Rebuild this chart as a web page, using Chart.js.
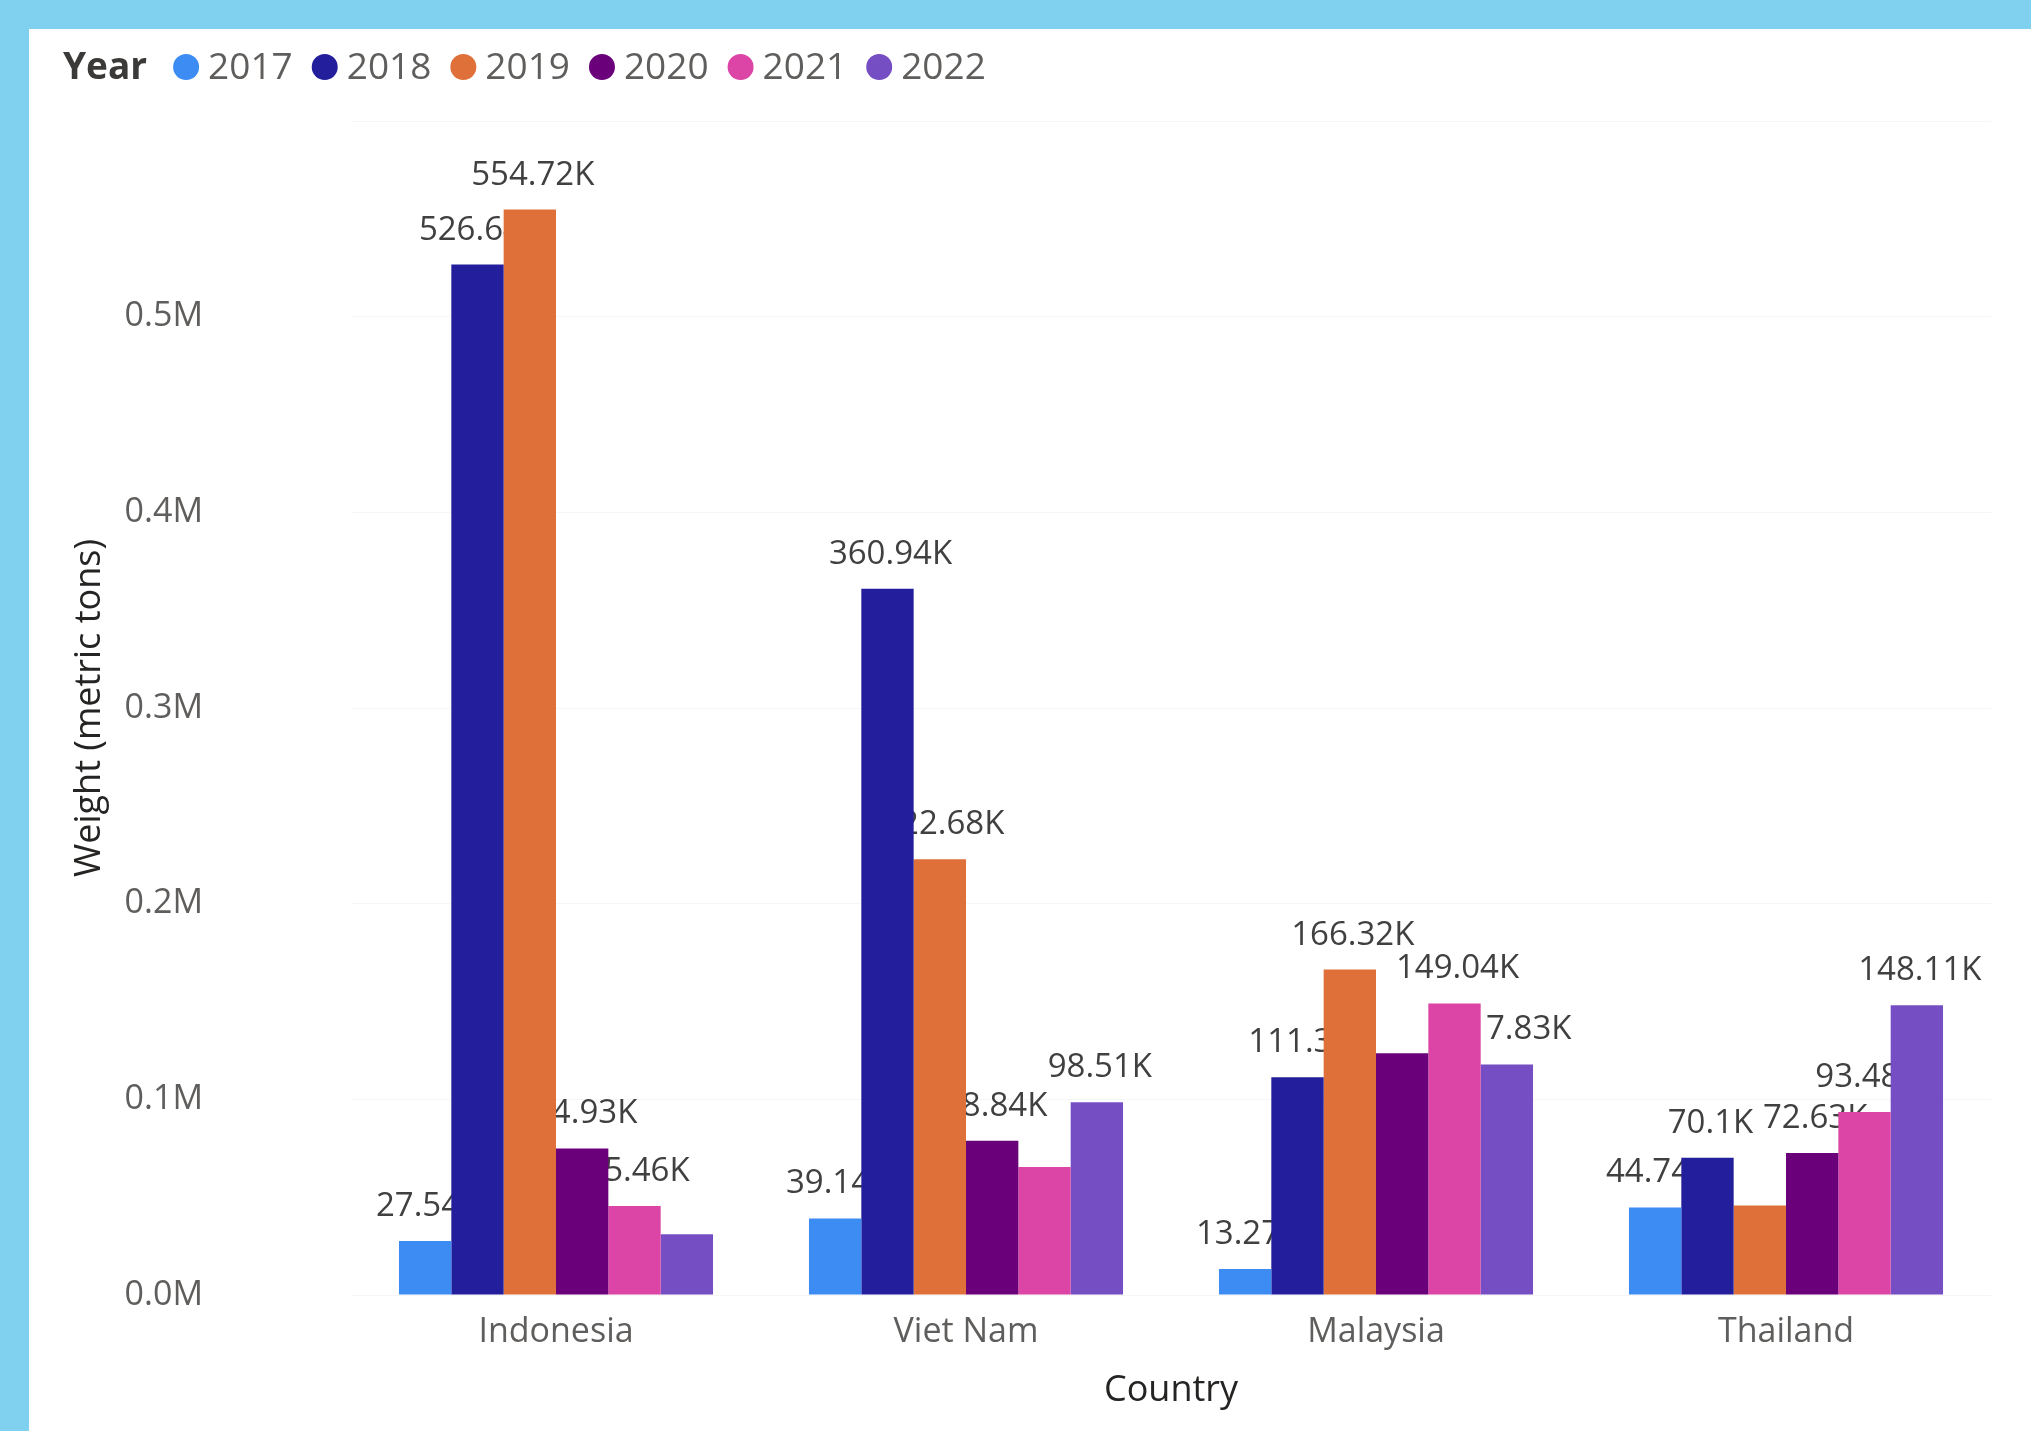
<!DOCTYPE html>
<html>
<head>
<meta charset="utf-8">
<script src="https://cdn.jsdelivr.net/npm/chart.js@4.4.1/dist/chart.umd.min.js"></script>
<style>
  html, body { margin: 0; padding: 0; }
  body { width: 2031px; height: 1431px; background: #7FD1EF; position: relative; overflow: hidden; }
  #panel { position: absolute; left: 29px; top: 29px; width: 2002px; height: 1402px; background: #ffffff; }
  canvas { display: block; }
</style>
</head>
<body>
<div id="panel"><canvas id="chart" width="2002" height="1402"></canvas></div>
<script>
// Imported weight per country and year, metric tons
const countries = ['Indonesia', 'Viet Nam', 'Malaysia', 'Thailand'];
const years = ['2017', '2018', '2019', '2020', '2021', '2022'];

const w2017 = [27540, 39140, 13270, 44740];
const w2018 = [526640, 360940, 111300, 70100];
const w2019 = [554720, 222680, 166320, 45800];
const w2020 = [74930, 78840, 123500, 72630];
const w2021 = [45460, 65400, 149040, 93480];
const w2022 = [31000, 98510, 117830, 148110];

// which value labels are printed above the bars
const shown2017 = [true, true, true, true];
const shown2018 = [true, true, true, true];
const shown2019 = [true, true, true, false];
const shown2020 = [true, true, false, true];
const shown2021 = [true, false, true, true];
const shown2022 = [false, true, true, true];

const yTicks = [0, 100000, 200000, 300000, 400000, 500000];

const seriesValues = [w2017, w2018, w2019, w2020, w2021, w2022];
const seriesShown = [shown2017, shown2018, shown2019, shown2020, shown2021, shown2022];
const yearColors = ['#3C8CF4', '#231F9C', '#E0703A', '#6B007B', '#DC45A5', '#744EC2'];

const FONT = '"Open Sans", "Segoe UI", sans-serif';

function fmtK(v) {
  let s = (v / 1000).toFixed(2);
  s = s.replace(/0+$/, '').replace(/\.$/, '');
  return s + 'K';
}

// Value labels sit underneath the bars, so neighbouring bars may cover them
const valueLabels = {
  id: 'valueLabels',
  beforeDatasetsDraw(chart) {
    const ctx = chart.ctx;
    ctx.save();
    ctx.font = '33px ' + FONT;
    ctx.fillStyle = '#404040';
    ctx.textAlign = 'center';
    ctx.textBaseline = 'alphabetic';
    chart.data.datasets.forEach((ds, i) => {
      const meta = chart.getDatasetMeta(i);
      meta.data.forEach((bar, j) => {
        if (!ds.showLabel[j]) return;
        ctx.fillText(fmtK(ds.data[j]), bar.x + 3, bar.y - 25);
      });
    });
    ctx.restore();
  }
};

// Inline legend: bold field name followed by colored dots
const yearLegend = {
  id: 'yearLegend',
  afterDraw(chart) {
    const ctx = chart.ctx;
    ctx.save();
    const cy = 38;
    ctx.textBaseline = 'middle';
    ctx.textAlign = 'left';
    ctx.font = 'bold 37px ' + FONT;
    ctx.fillStyle = '#3b3a39';
    let x = 34;
    ctx.fillText('Year', x, cy + 1);
    x += ctx.measureText('Year').width + 26;
    ctx.font = '37px ' + FONT;
    chart.data.datasets.forEach((ds) => {
      const r = 13;
      ctx.beginPath();
      ctx.arc(x + r, cy, r, 0, Math.PI * 2);
      ctx.fillStyle = ds.backgroundColor;
      ctx.fill();
      x += 2 * r + 9;
      ctx.fillStyle = '#605E5C';
      ctx.fillText(ds.label, x, cy + 1);
      x += ctx.measureText(ds.label).width + 19;
    });
    ctx.restore();
  }
};

const datasets = years.map((y, i) => ({
  label: y,
  data: seriesValues[i],
  showLabel: seriesShown[i],
  backgroundColor: yearColors[i],
  borderWidth: 0,
  categoryPercentage: 0.766,
  barPercentage: 1.0
}));

new Chart(document.getElementById('chart'), {
  type: 'bar',
  data: { labels: countries, datasets },
  options: {
    responsive: false,
    animation: false,
    layout: { padding: { left: 0, right: 40, top: 92, bottom: 0 } },
    plugins: {
      legend: { display: false },
      tooltip: { enabled: false }
    },
    scales: {
      x: {
        grid: { display: false, drawTicks: false },
        border: { display: false },
        ticks: { color: '#605E5C', font: { family: FONT, size: 34 }, padding: 17 },
        title: {
          display: true, text: 'Country', color: '#252423',
          font: { family: FONT, size: 36 }, padding: { top: 0, bottom: 19 }
        },
        afterFit(scale) { scale.height = 136; }
      },
      y: {
        min: 0, max: 600000,
        afterBuildTicks(scale) { scale.ticks = yTicks.concat([600000]).map(v => ({ value: v })); },
        grid: { color: 'rgba(0,0,0,0.035)', drawTicks: false },
        border: { display: false },
        ticks: {
          color: '#605E5C', font: { family: FONT, size: 34 }, padding: 148,
          callback: (v) => yTicks.includes(v) ? (v / 1e6).toFixed(1) + 'M' : ''
        },
        title: {
          display: true, text: 'Weight (metric tons)', color: '#252423',
          font: { family: FONT, size: 36 }, padding: { top: 39, bottom: 0 }
        },
        afterFit(scale) {
          scale.width = 322;
          scale.paddingTop = 0;
          scale.paddingBottom = 0;
        }
      }
    }
  },
  plugins: [valueLabels, yearLegend]
});
</script>
</body>
</html>
